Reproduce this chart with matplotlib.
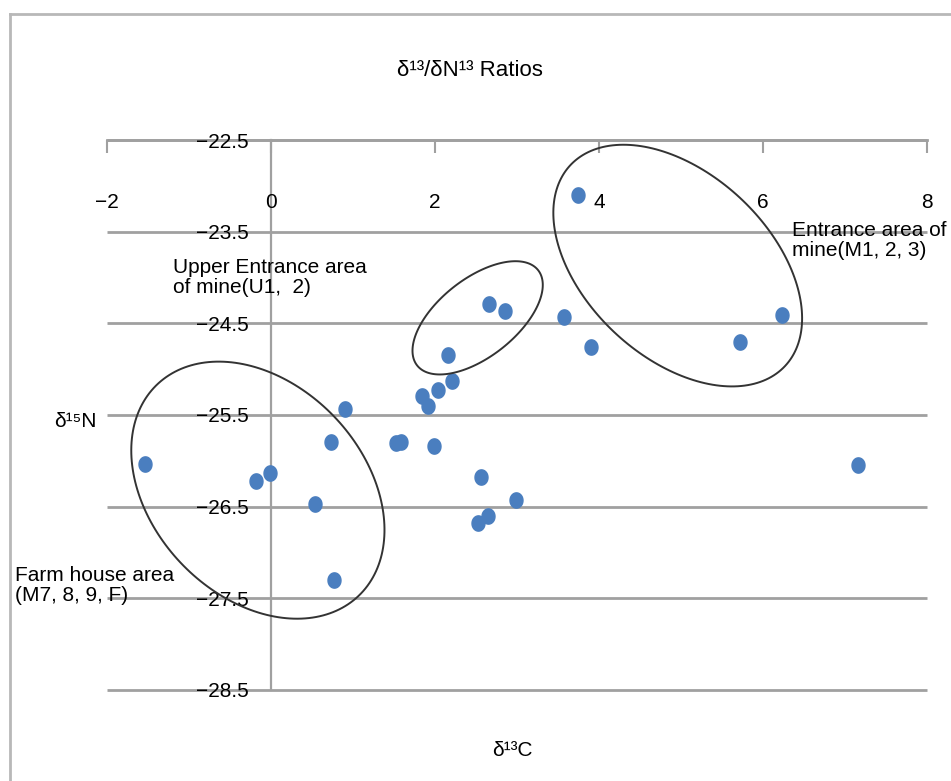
import numpy as np
import matplotlib.pyplot as plt
from matplotlib.path import Path
from matplotlib.lines import Line2D
from matplotlib.patches import Polygon

plt.rcParams['font.family'] = ['Liberation Sans', 'DejaVu Sans']

# delta 13C / delta 15N readings
d13c = [-1.54, -0.18, -0.01, 0.54, 0.73, 0.90, 0.77, 1.52, 1.59, 1.84, 1.91, 1.99,
        2.04, 2.21, 2.16, 2.66, 2.85, 2.56, 2.65, 2.52, 2.99, 3.57, 3.74, 3.90,
        5.72, 6.23, 7.16]
d15n = [-26.03, -26.22, -26.13, -26.47, -25.79, -25.43, -27.30, -25.80, -25.79,
        -25.29, -25.40, -25.84, -25.23, -25.13, -24.85, -24.29, -24.37, -26.18,
        -26.60, -26.68, -26.43, -24.43, -23.10, -24.76, -24.70, -24.41, -26.05]

x_ticks = [-2, 0, 2, 4, 6, 8]
y_ticks = [-22.5, -23.5, -24.5, -25.5, -26.5, -27.5, -28.5]

W, H = 951, 781
grey = '#a0a0a0'

fig = plt.figure(figsize=(W / 100, H / 100), dpi=100)
ax = fig.add_axes([107 / W, 91 / H, 820 / W, 550 / H])
ax.set_xlim(-2, 8)
ax.set_ylim(-28.5, -22.5)

# excel style: x axis sits on top line, y axis crosses at x = 0
for s in ['top', 'right']:
    ax.spines[s].set_visible(False)
ax.spines['bottom'].set_position(('data', -22.5))
ax.spines['left'].set_position(('data', 0))
ax.spines['bottom'].set_color(grey)
ax.spines['bottom'].set_linewidth(2)
ax.spines['left'].set_color(grey)
ax.spines['left'].set_linewidth(1.6)
for s in ax.spines.values():
    s.set_zorder(0.3)

ax.set_xticks(x_ticks)
ax.set_xticklabels([str(v).replace('-', '\u2212') for v in x_ticks])
ax.set_yticks(y_ticks)
ax.set_yticklabels([f'{v:.1f}'.replace('-', '\u2212') for v in y_ticks])
ax.tick_params(axis='x', direction='out', length=9, width=1.5, color=grey,
               pad=29, labelsize=15)
ax.tick_params(axis='y', length=0, pad=16, labelsize=15)
ax.grid(axis='y', color=grey, linewidth=2, solid_capstyle='butt')
ax.set_axisbelow(True)
for gl in ax.get_ygridlines():
    gl.set_clip_on(False)

# point marker slightly taller than wide
t = np.linspace(0, 2 * np.pi, 40)
oval = Path(np.column_stack([0.85 * np.cos(t), np.sin(t)]), closed=True)
ax.plot(d13c, d15n, linestyle='none', marker=oval, markersize=11,
        color='#4a7ebf', zorder=3)


def draw_ring(cx, cy, a, b, ang):
    # ring sizes in pixels so shape is independent of axis scaling
    c = ax.transData.transform((cx, cy))
    tt = np.linspace(0, 2 * np.pi, 200)
    r = np.deg2rad(ang)
    px = a * np.cos(tt) * np.cos(r) - b * np.sin(tt) * np.sin(r)
    py = a * np.cos(tt) * np.sin(r) + b * np.sin(tt) * np.cos(r)
    pts = ax.transData.inverted().transform(np.column_stack([c[0] + px, c[1] + py]))
    ax.add_patch(Polygon(pts, closed=True, fill=False, edgecolor='#333333',
                         linewidth=1.4, clip_on=False, zorder=4))


draw_ring(-0.16, -26.32, 146, 106, -46.4)
draw_ring(2.52, -24.44, 77, 39, 38.2)
draw_ring(4.96, -23.87, 147, 92, -43.1)

ax.text(-1.2, -24.0, 'Upper Entrance area\nof mine(U1,  2)', fontsize=15,
        va='center', ha='left', linespacing=1.05)
ax.text(6.35, -23.6, 'Entrance area of\nmine(M1, 2, 3)', fontsize=15,
        va='center', ha='left', linespacing=1.05, clip_on=False)
ax.text(-3.12, -27.36, 'Farm house area\n(M7, 8, 9, F)', fontsize=15,
        va='center', ha='left', linespacing=1.05, clip_on=False)

fig.text(470 / W, 1 - 70 / H, 'δ\u00b9\u00b3/δN\u00b9\u00b3 Ratios', fontsize=16,
         ha='center', va='center')
fig.text(97 / W, 1 - 421 / H, 'δ\u00b9\u2075N', fontsize=15, ha='right', va='center')
fig.text(512 / W, 1 - 750 / H, 'δ\u00b9\u00b3C', fontsize=15, ha='center', va='center')

# outer chart frame (only left and top edges visible)
fig.add_artist(Line2D([10 / W, 10 / W], [0, 1 - 14 / H], color='#b8b8b8', linewidth=2))
fig.add_artist(Line2D([10 / W, 1], [1 - 14 / H, 1 - 14 / H], color='#b8b8b8', linewidth=2))

fig.savefig('out.png', dpi=100)
